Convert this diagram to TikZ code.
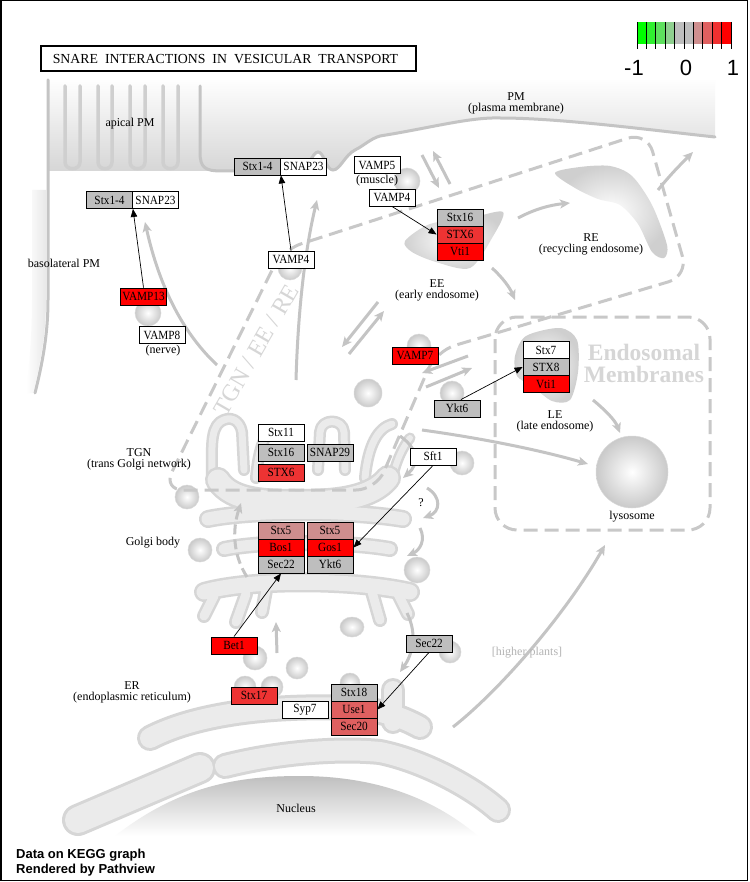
\documentclass[tikz,border=0pt]{standalone}
\usepackage{fontspec}
\setmainfont{Liberation Serif}
\newfontfamily\sansf{Liberation Sans}
\newfontfamily\genef[FakeStretch=0.9]{Liberation Serif}
\usetikzlibrary{arrows.meta,calc}
\definecolor{gbox}{HTML}{BEBEBE}
\definecolor{r1}{HTML}{FF0000}
\definecolor{r2}{HTML}{EE3333}
\definecolor{r3}{HTML}{DF6060}
\definecolor{r4}{HTML}{CE8E8E}
\definecolor{memb}{HTML}{C4C4C4}
\definecolor{tubeo}{HTML}{D6D6D6}
\definecolor{tubei}{HTML}{EBEBEB}
\definecolor{dashc}{HTML}{C8C8C8}
\definecolor{arrc}{HTML}{C4C4C4}
\definecolor{ghost}{HTML}{D6D6D6}
\definecolor{hp}{HTML}{B4B4B4}
\definecolor{lgA}{HTML}{00FF00}
\definecolor{lgB}{HTML}{30F030}
\definecolor{lgC}{HTML}{5EE05E}
\definecolor{lgD}{HTML}{8FCF8F}
\definecolor{lgE}{HTML}{BEBEBE}
\definecolor{lgF}{HTML}{BEBEBE}
\definecolor{lgG}{HTML}{CF8F8F}
\definecolor{lgH}{HTML}{E06060}
\definecolor{lgI}{HTML}{F03030}
\definecolor{lgJ}{HTML}{FF0000}
\tikzset{
 gene/.style={draw=black, line width=0.9pt, minimum width=46pt, minimum height=17pt, inner sep=0pt, font=\genef\fontsize{12.5}{12.5}\selectfont},
 lbl/.style={align=center, inner sep=0pt, font=\fontsize{12}{11}\selectfont},
 rel/.style={-{Triangle[length=8pt,width=6.5pt]}, line width=0.7pt, draw=black},
 garrow/.style={draw=arrc, line width=3pt, -{Stealth[length=10pt,width=9pt,inset=2.5pt]}},
 memline/.style={draw=memb, line width=3pt, line cap=round},
 dashln/.style={draw=dashc, line width=3pt, dash pattern=on 14pt off 7pt},
 tubeout/.style={draw=tubeo, line cap=round, line join=round, line width=#1},
 tubein/.style={draw=tubei, line cap=round, line join=round, line width=#1},
 ves/.style={inner color=white, outer color=gray!42, draw=gray!30, line width=0.5pt},
 blob/.style={inner color=white, outer color=gray!38},
}
\begin{document}
\begin{tikzpicture}[x=1pt,y=-1pt]
\useasboundingbox (0,0) rectangle (749,882);
\fill[white] (0,0) rectangle (749,882);

% plasma membrane band
\shade[top color=white, bottom color=gray!32] (48,78) -- (715,78) -- (715,137) .. controls (650,130) and (560,118) .. (500,118) .. controls (470,117) and (430,128) .. (380,136) .. controls (370,139) and (365,145) .. (355,150) .. controls (345,155) and (340,170) .. (333,170) .. controls (326,170) and (324,152) .. (318,152) .. controls (312,152) and (308,171) .. (300,171) -- (48,171) -- cycle;
\shade[left color=white, right color=gray!18] (32,190) -- (46,190) -- (46,300) .. controls (46,335) and (40,365) .. (33,393) -- (26,393) .. controls (30,360) and (32,330) .. (32,300) -- cycle;
\foreach \a/\b in {65/80, 98/112, 130/145, 163/178}
  {\draw[memline, draw=gray!38, line width=3.5pt] (\a,86) -- (\a,162) .. controls (\a,171) and (\b,171) .. (\b,162) -- (\b,86);}
\draw[memline] (200,86) -- (200,152) .. controls (200,168) and (205,171) .. (222,171) -- (300,171) .. controls (308,171) and (312,152) .. (318,152) .. controls (324,152) and (326,170) .. (333,170) .. controls (340,170) and (345,155) .. (355,150) .. controls (365,145) and (370,139) .. (380,136) .. controls (430,128) and (470,117) .. (500,118) .. controls (560,118) and (650,130) .. (715,137);
\draw[memline] (48,80) -- (48,300) .. controls (48,335) and (42,365) .. (35,393);

% nucleus
\shade[top color=gray!50, bottom color=white] (115,836) .. controls (180,785) and (240,776) .. (300,776) .. controls (370,776) and (430,795) .. (478,836) -- cycle;

% ER tubes
\draw[tubeout=32pt] (78,820) -- (200,768);
\draw[tubeout=26pt] (225,766) .. controls (280,752) and (340,748) .. (380,752) .. controls (420,760) and (470,785) .. (498,810);
\draw[tubeout=26pt] (150,738) .. controls (200,712) and (280,705) .. (350,708) .. controls (380,710) and (400,716) .. (420,727);
\draw[tubeout=24pt] (393,690) -- (393,722);
\draw[tubein=26pt] (78,820) -- (200,768);
\draw[tubein=20pt] (225,766) .. controls (280,752) and (340,748) .. (380,752) .. controls (420,760) and (470,785) .. (498,810);
\draw[tubein=20pt] (150,738) .. controls (200,712) and (280,705) .. (350,708) .. controls (380,710) and (400,716) .. (420,727);
\draw[tubein=18pt] (393,690) -- (393,722);

% Golgi: TGN fingers
\draw[tubeout=12pt] (212,480) .. controls (212,450) and (210,430) .. (220,422) .. controls (230,415) and (240,420) .. (242,432) -- (244,470);
\draw[tubeout=12pt] (256,478) .. controls (258,455) and (262,440) .. (270,430);
\draw[tubeout=12pt] (318,470) -- (320,432) .. controls (321,418) and (343,418) .. (344,432) -- (345,470);
\draw[tubeout=12pt] (365,478) .. controls (368,445) and (378,428) .. (392,424);
\draw[tubeout=11pt] (392,480) .. controls (396,460) and (404,445) .. (410,438);
\draw[tubein=7pt] (212,480) .. controls (212,450) and (210,430) .. (220,422) .. controls (230,415) and (240,420) .. (242,432) -- (244,470);
\draw[tubein=7pt] (256,478) .. controls (258,455) and (262,440) .. (270,430);
\draw[tubein=7pt] (318,470) -- (320,432) .. controls (321,418) and (343,418) .. (344,432) -- (345,470);
\draw[tubein=7pt] (365,478) .. controls (368,445) and (378,428) .. (392,424);
\draw[tubein=6pt] (392,480) .. controls (396,460) and (404,445) .. (410,438);
% Golgi: cisternae
\draw[tubeout=26pt] (218,480) .. controls (232,502) and (268,502) .. (300,502) .. controls (338,502) and (372,498) .. (388,478);
\draw[tubeout=18pt] (208,519) .. controls (250,510) and (350,510) .. (403,519);
\draw[tubeout=16pt] (224,549) .. controls (262,541) and (345,541) .. (390,549);
\draw[tubeout=20pt] (204,592) .. controls (250,579) and (352,579) .. (410,592);
\draw[tubeout=14pt] (214,596) -- (204,616);
\draw[tubeout=14pt] (246,594) -- (236,622);
\draw[tubeout=14pt] (266,590) -- (262,612);
\draw[tubeout=14pt] (372,592) -- (380,620);
\draw[tubeout=14pt] (398,594) -- (408,614);
\draw[tubein=21pt] (218,480) .. controls (232,502) and (268,502) .. (300,502) .. controls (338,502) and (372,498) .. (388,478);
\draw[tubein=13pt] (208,519) .. controls (250,510) and (350,510) .. (403,519);
\draw[tubein=11pt] (224,549) .. controls (262,541) and (345,541) .. (390,549);
\draw[tubein=15pt] (204,592) .. controls (250,579) and (352,579) .. (410,592);
\draw[tubein=9pt] (214,596) -- (204,616);
\draw[tubein=9pt] (246,594) -- (236,622);
\draw[tubein=9pt] (266,590) -- (262,612);
\draw[tubein=9pt] (372,592) -- (380,620);
\draw[tubein=9pt] (398,594) -- (408,614);

% endosome blobs
\path[blob] plot[smooth cycle] coordinates {(405,241) (430,224) (470,218) (503,212) (492,238) (470,268) (436,262) (412,252)};
\path[blob] plot[smooth cycle] coordinates {(555,173) (580,167) (610,166) (632,176) (652,205) (667,245) (664,258) (652,252) (638,224) (620,205) (598,199) (575,188)};
\path[blob] plot[smooth cycle] coordinates {(515,356) (526,336) (560,328) (577,340) (578,372) (570,400) (552,401) (532,386) (517,376)};
\path[ves] (632,472) circle[radius=36pt];

% vesicles
\foreach \vx/\vy/\vr in {148/313/13, 290/268/12, 407/181/13, 419/346/12, 368/393/14, 452/393/12, 462/463/12, 187/497/12, 200/550/12, 417/570/13, 255/658/12, 297/668/11, 245/687/11, 272/687/11, 450/652/11, 350/683/10}
  {\path[ves] (\vx,\vy) circle[radius=\vr pt];}
\path[ves] (352,627) ellipse[x radius=12pt, y radius=10pt];

% dashed compartments
\draw[dashln, rounded corners=20pt] (270,490) -- (376,490) -- (436,351) -- (688,276) -- (647,132) -- (282,250) -- (163,490) -- cycle;
\draw[dashln, rounded corners=22pt] (495,317) rectangle (710,530);

% gray transport arrows
\draw[garrow] (217,365) .. controls (185,335) and (160,290) .. (145,222);
\draw[garrow] (296,380) .. controls (298,310) and (305,250) .. (317,200);
\draw[garrow] (422,155) -- (439,188);
\draw[garrow] (450,184) -- (433,151);
\draw[garrow] (518,218) .. controls (535,209) and (550,205) .. (570,203);
\draw[garrow] (658,190) .. controls (670,175) and (680,165) .. (693,152);
\draw[garrow] (492,268) .. controls (503,278) and (510,288) .. (515,300);
\draw[garrow] (378,302) -- (342,347);
\draw[garrow] (349,354) -- (384,311);
\draw[garrow] (468,356) -- (422,373);
\draw[garrow] (426,387) -- (472,368);
\draw[garrow] (422,430) .. controls (480,438) and (540,450) .. (588,464);
\draw[garrow] (593,400) .. controls (605,410) and (615,420) .. (620,433);
\draw[garrow] (453,727) .. controls (500,690) and (565,615) .. (605,545);
\draw[garrow, dash pattern=on 10pt off 5pt] (247,577) .. controls (233,555) and (232,530) .. (241,503);
\draw[garrow] (277,653) -- (276,622);
\draw[garrow] (400,436) .. controls (420,450) and (418,465) .. (403,478);
\draw[garrow] (427,488) .. controls (442,497) and (440,512) .. (423,518);
\draw[garrow] (420,528) .. controls (426,540) and (420,550) .. (407,556);
\draw[garrow] (407,613) .. controls (418,635) and (412,655) .. (400,672);

% ghost texts
\node[font=\bfseries\fontsize{23.5}{22}\selectfont, text=ghost, align=center, inner sep=0pt] (endo) at (644,363) {Endosomal\\Membranes};
\node[rotate=60, font=\fontsize{24}{24}\selectfont, text=ghost, inner sep=0pt] (tgnee) at (256,350) {TGN / EE / RE};
\node[lbl, text=hp] (hplants) at (527,653) {[higher plants]};

% labels
\node[lbl] (lapical) at (130,124) {apical PM};
\node[lbl] (lbaso) at (64,263) {basolateral PM};
\node[lbl] (lpm) at (516,103.5) {PM\\(plasma membrane)};
\node[lbl] (lre) at (591,244) {RE\\(recycling endosome)};
\node[lbl] (lmus) at (377,181) {(muscle)};
\node[lbl] (lnerve) at (163,351) {(nerve)};
\node[lbl] (lee) at (437,290.5) {EE\\(early endosome)};
\node[lbl] (lle) at (555,421) {LE\\(late endosome)};
\node[lbl] (llys) at (632,517) {lysosome};
\node[lbl] (ltgn) at (139,459) {TGN\\(trans Golgi network)};
\node[lbl] (lgolgi) at (153,543) {Golgi body};
\node[lbl] (ler) at (132,692.5) {ER\\(endoplasmic reticulum)};
\node[lbl] (lnuc) at (296,808) {Nucleus};
\node[lbl] (lq) at (421,503) {?};

% gene boxes
\node[gene, fill=gbox] (stxA) at (109.5,200) {Stx1-4};
\node[gene, fill=white] (snapA) at (155.5,200) {SNAP23};
\node[gene, fill=gbox] (stxB) at (257.5,166.5) {Stx1-4};
\node[gene, fill=white] (snapB) at (303.5,166.5) {SNAP23};
\node[gene, fill=white] (vamp4b) at (291,259.5) {VAMP4};
\node[gene, fill=r1] (vamp13) at (143.5,296.5) {VAMP13};
\node[gene, fill=white] (vamp8) at (162,335) {VAMP8};
\node[gene, fill=white] (vamp5) at (377,165) {VAMP5};
\node[gene, fill=white] (vamp4a) at (392,197.5) {VAMP4};
\node[gene, fill=gbox] (ee1) at (460,217.5) {Stx16};
\node[gene, fill=r2] (ee2) at (460,234.5) {STX6};
\node[gene, fill=r1] (ee3) at (460,251.5) {Vti1};
\node[gene, fill=r1] (vamp7) at (415,355.5) {VAMP7};
\node[gene, fill=gbox] (ykt6a) at (457,408.5) {Ykt6};
\node[gene, fill=white] (le1) at (546,350) {Stx7};
\node[gene, fill=gbox] (le2) at (546,367) {STX8};
\node[gene, fill=r1] (le3) at (546,384) {Vti1};
\node[gene, fill=white] (sft1) at (433,456.5) {Sft1};
\node[gene, fill=white] (stx11) at (281,432.5) {Stx11};
\node[gene, fill=gbox] (stx16b) at (281,452.5) {Stx16};
\node[gene, fill=gbox] (snap29) at (330,452.5) {SNAP29};
\node[gene, fill=r2] (stx6b) at (281,472.5) {STX6};
\node[gene, fill=r4] (stx5a) at (281,530.5) {Stx5};
\node[gene, fill=r1] (bos1) at (281,547.5) {Bos1};
\node[gene, fill=gbox] (sec22a) at (281,564.5) {Sec22};
\node[gene, fill=r4] (stx5b) at (330,530.5) {Stx5};
\node[gene, fill=r1] (gos1) at (330,547.5) {Gos1};
\node[gene, fill=gbox] (ykt6b) at (330,564.5) {Ykt6};
\node[gene, fill=r1] (bet1) at (234,645.5) {Bet1};
\node[gene, fill=gbox] (sec22b) at (429,643.5) {Sec22};
\node[gene, fill=r2] (stx17) at (254,695.5) {Stx17};
\node[gene, fill=white] (syp7) at (305,710) {Syp7};
\node[gene, fill=gbox] (stx18) at (354,692.5) {Stx18};
\node[gene, fill=r3] (use1) at (354,709.5) {Use1};
\node[gene, fill=r3] (sec20) at (354,726.5) {Sec20};

% interactions
\draw[rel] (vamp13.north) -- (stxA.south east);
\draw[rel] (vamp4b.north) -- (stxB.south east);
\draw[rel] (vamp4a.south) -- (ee2.west);
\draw[rel] ($(ykt6a.north)+(4,0)$) -- (le2.west);
\draw[rel] (sft1.south) -- (gos1.east);
\draw[rel] (bet1.north) -- (sec22a.south);
\draw[rel] (sec22b.south) -- (use1.east);

% title
\draw[line width=2pt] (41,46) rectangle (416,71);
\node[font=\fontsize{13.8}{14}\selectfont, inner sep=0pt] (title) at (225.5,59) {SNARE\hspace{7pt}INTERACTIONS\hspace{7pt}IN\hspace{7pt}VESICULAR\hspace{7pt}TRANSPORT};

% legend
\foreach \i/\c in {0/lgA,1/lgB,2/lgC,3/lgD,4/lgE,5/lgF,6/lgG,7/lgH,8/lgI,9/lgJ}
  {\fill[\c] ({637+\i*9.4},22) rectangle ({637+(\i+1)*9.4},44);}
\foreach \i in {0,...,10}
  {\draw[black, line width=0.8pt] ({637+\i*9.4},22) -- ({637+\i*9.4},49);}
\node[font=\sansf\fontsize{22}{22}\selectfont, inner sep=0pt] (lm1) at (634,68) {-1};
\node[font=\sansf\fontsize{22}{22}\selectfont, inner sep=0pt] (l0) at (686,68) {0};
\node[font=\sansf\fontsize{22}{22}\selectfont, inner sep=0pt] (lp1) at (733,68) {1};

% footer
\node[anchor=west, font=\sansf\bfseries\fontsize{13}{13}\selectfont, inner sep=0pt] (f1) at (16,855) {Data on KEGG graph};
\node[anchor=west, font=\sansf\bfseries\fontsize{13}{13}\selectfont, inner sep=0pt] (f2) at (16,870) {Rendered by Pathview};

% frame
\draw[black, line width=1.5pt] (1,0.75) rectangle (747.5,880.5);
\end{tikzpicture}
\end{document}
